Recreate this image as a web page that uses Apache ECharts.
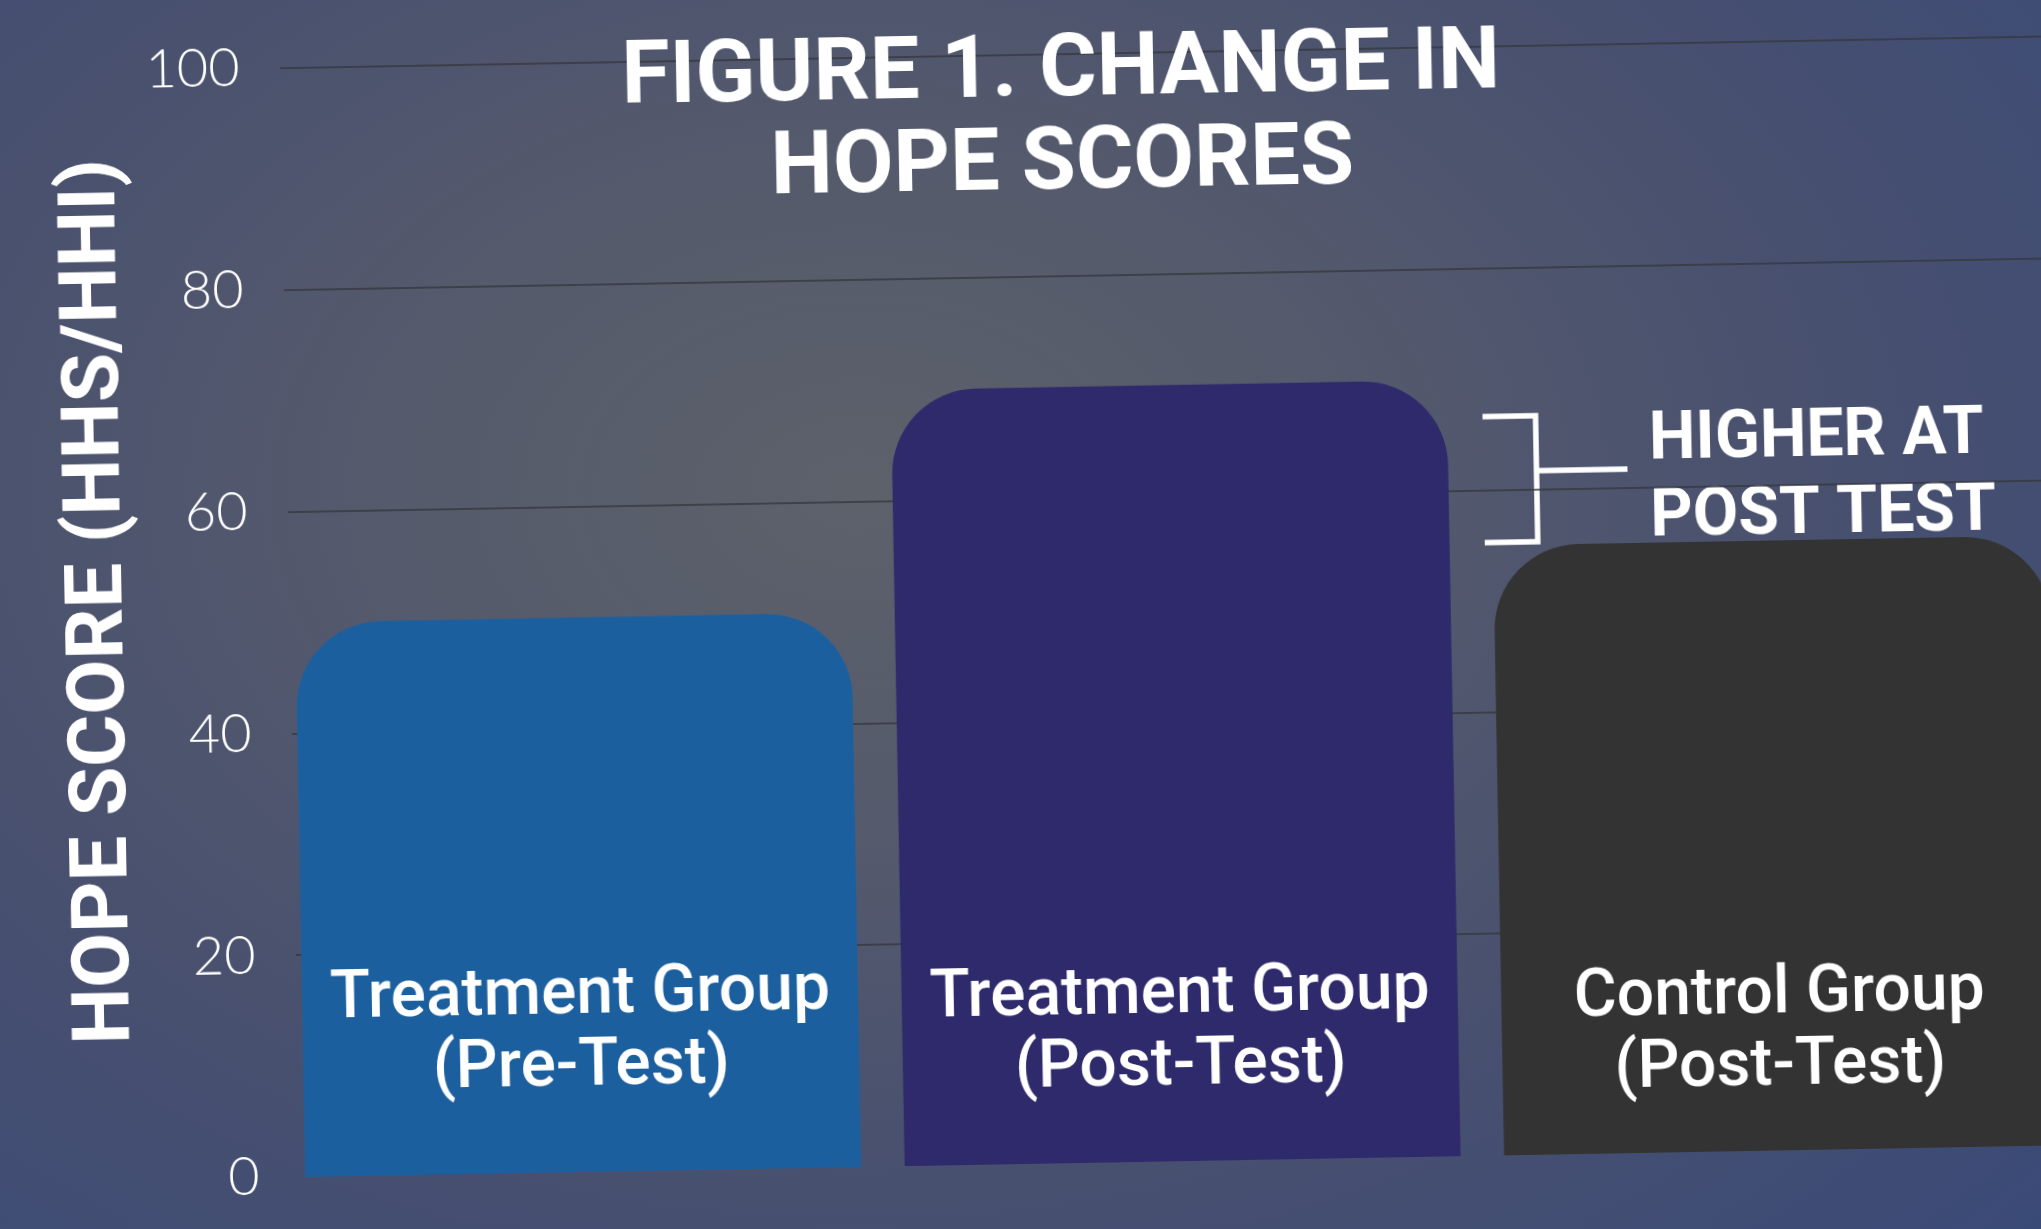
<!DOCTYPE html>
<html>
<head>
<meta charset="utf-8">
<script src="https://cdn.jsdelivr.net/npm/echarts@6/dist/echarts.min.js"></script>
<style>
  html, body {
    margin: 0;
    padding: 0;
    width: 2041px;
    height: 1229px;
    overflow: hidden;
    background: radial-gradient(ellipse 78% 90% at 42% 40%, #5d616a 0%, #555a6c 30%, #48506f 62%, #3a4a77 100%);
  }
  /* the whole figure sits at a slight tilt */
  #chart {
    position: absolute;
    left: 0;
    top: 0;
    width: 2141px;
    height: 1229px;
    transform-origin: 1020.5px 614.5px;
    transform: rotate(-1.03deg);
  }
</style>
</head>
<body>
<div id="chart"></div>
<script>
  const categories = ['Treatment Group\n(Pre-Test)', 'Treatment Group\n(Post-Test)', 'Control Group\n(Post-Test)'];
  const hopeScores = [50, 70, 55];
  const barColors = ['#1c5f9e', '#2e2a6b', '#333333'];
  const yTicks = [0, 20, 40, 60, 80, 100];

  const yMin = yTicks[0];
  const yMax = yTicks[yTicks.length - 1];
  const yStep = yTicks[1] - yTicks[0];

  // tilt of the figure, used to keep the in-bar captions on one level line
  const tilt = 1.03 * Math.PI / 180;
  const gridLeft = 273.5;
  const gridRight = 69;
  const chartWidth = 2141;
  const bandWidth = (chartWidth - gridLeft - gridRight) / categories.length;

  const chart = echarts.init(document.getElementById('chart'), null, { renderer: 'canvas' });

  const option = {
    backgroundColor: 'transparent',
    animation: false,
    title: {
      text: 'FIGURE 1. CHANGE IN\nHOPE SCORES',
      left: 'center',
      top: 27,
      padding: 0,
      textStyle: {
        color: '#ffffff',
        fontFamily: 'Roboto',
        fontWeight: 'bold',
        fontSize: 88,
        lineHeight: 93
      }
    },
    grid: [
      { left: gridLeft, right: gridRight, top: 55, bottom: 65 },
      { left: 290, right: 0, top: 55, bottom: 65 }
    ],
    xAxis: [
      { type: 'category', gridIndex: 0, data: categories, show: false },
      { type: 'category', gridIndex: 1, data: categories, show: false }
    ],
    yAxis: [
      {
        type: 'value', gridIndex: 0, min: yMin, max: yMax, interval: yStep,
        axisLine: { show: false }, axisTick: { show: false }, splitLine: { show: false },
        axisLabel: { color: '#ffffff', fontFamily: 'Lato', fontWeight: 300, fontSize: 54, margin: 24 }
      },
      {
        type: 'value', gridIndex: 1, min: yMin, max: yMax, interval: yStep,
        axisLine: { show: false }, axisTick: { show: false }, axisLabel: { show: false },
        splitLine: { show: true, showMinLine: false, lineStyle: { color: '#35373d', width: 1.5 } }
      }
    ],
    graphic: [
      {
        type: 'text',
        x: 102, y: 585,
        rotation: Math.PI / 2,
        style: {
          text: 'HOPE SCORE (HHS/HHI)',
          fill: '#ffffff',
          font: 'bold 80px Roboto',
          align: 'center',
          verticalAlign: 'middle'
        }
      },
      {
        type: 'polyline',
        shape: { points: [[1486, 425], [1539, 425], [1539, 551], [1486, 551]] },
        style: { stroke: '#ffffff', lineWidth: 5.5, fill: null, lineJoin: 'miter' }
      },
      {
        type: 'line',
        shape: { x1: 1539, y1: 480, x2: 1630, y2: 480 },
        style: { stroke: '#ffffff', lineWidth: 5.5 }
      },
      {
        type: 'text',
        x: 1652, y: 415,
        style: {
          text: 'HIGHER AT\nPOST TEST',
          fill: '#ffffff',
          font: 'bold 66px Roboto',
          lineHeight: 77,
          align: 'left',
          verticalAlign: 'top'
        }
      }
    ],
    series: [
      {
        type: 'bar',
        xAxisIndex: 0,
        yAxisIndex: 0,
        silent: true,
        barWidth: 556,
        data: hopeScores.map((v, i) => ({
          value: v,
          itemStyle: { color: barColors[i] },
          label: { distance: 68 - Math.tan(tilt) * bandWidth * i }
        })),
        itemStyle: { borderRadius: [85, 85, 0, 0] },
        label: {
          show: true,
          position: 'insideBottom',
          formatter: p => p.name,
          color: '#ffffff',
          fontFamily: 'Roboto',
          fontWeight: 500,
          fontSize: 66,
          lineHeight: 72,
          align: 'center'
        }
      }
    ]
  };

  chart.setOption(option);
</script>
</body>
</html>
